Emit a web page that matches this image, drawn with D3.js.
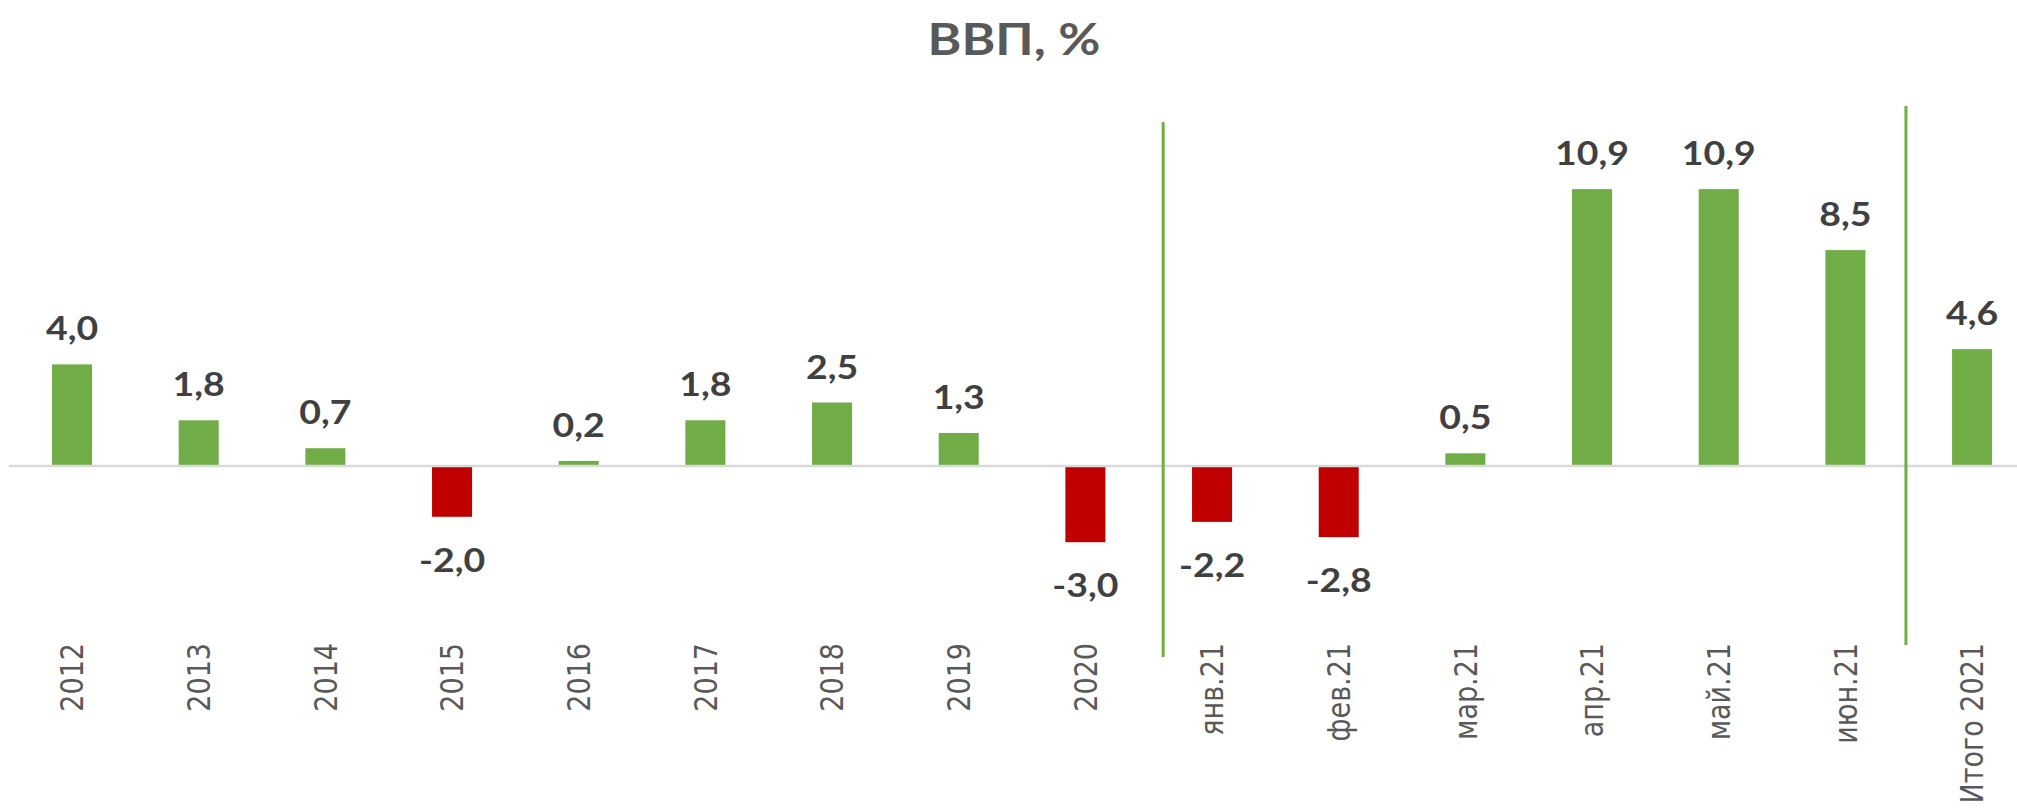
<!DOCTYPE html>
<html>
<head>
<meta charset="utf-8">
<script src="https://cdn.jsdelivr.net/npm/d3@7"></script>
<style>
	body { margin: 0; background: #ffffff; }
	svg { display: block; }
</style>
</head>
<body>
<div id="chart"></div>
<script>
var categories = ['2012', '2013', '2014', '2015', '2016', '2017', '2018', '2019', '2020',
	'янв.21', 'фев.21', 'мар.21', 'апр.21', 'май.21', 'июн.21', 'Итого 2021'];
var values = [4.0, 1.8, 0.7, -2.0, 0.2, 1.8, 2.5, 1.3, -3.0,
	-2.2, -2.8, 0.5, 10.9, 10.9, 8.5, 4.6];
// a green divider after these categories
var dividers = ['2020', 'июн.21'];
var title = 'ВВП, %';

var width = 2017,
	height = 812;

var GREEN = '#70ad47',
	RED = '#c00000',
	SX = 1.17; // source picture is a bit stretched sideways

var svg = d3.select('#chart')
	.append('svg')
	.attr('width', width)
	.attr('height', height);

var x = d3.scaleBand()
	.domain(categories)
	.range([8.7, 2035.4])
	.paddingInner(0.684)
	.paddingOuter(0.342);

var y = d3.scaleLinear()
	.domain([-4, 12])
	.range([567.6, 161.2]);

function fmt(v) {
	return v.toFixed(1).replace('.', ',');
}

function cx(d) {
	return x(d) + x.bandwidth() / 2;
}

// title
svg.append('text')
	.attr('transform', 'translate(1014,55) scale(' + SX + ',1)')
	.attr('text-anchor', 'middle')
	.style('font-family', 'Lato, "Open Sans", sans-serif')
	.style('font-weight', 'bold')
	.style('font-size', '44px')
	.style('fill', '#595959')
	.text(title);

// bars
svg.append('g')
	.selectAll('rect')
	.data(values)
	.enter()
	.append('rect')
	.attr('x', function(d, i) { return x(categories[i]); })
	.attr('width', x.bandwidth())
	.attr('y', function(d) { return d >= 0 ? y(d) : y(0); })
	.attr('height', function(d) { return Math.abs(y(d) - y(0)); })
	.style('fill', function(d) { return d >= 0 ? GREEN : RED; });

// zero line
svg.append('line')
	.attr('x1', 9)
	.attr('x2', width)
	.attr('y1', y(0))
	.attr('y2', y(0))
	.style('stroke', '#d9d9d9')
	.style('stroke-width', 2.5);

// value labels
svg.append('g')
	.selectAll('text')
	.data(values)
	.enter()
	.append('text')
	.attr('transform', function(d, i) {
		var ty = d >= 0 ? y(d) - 24 : y(d) + 55;
		return 'translate(' + cx(categories[i]) + ',' + ty + ') scale(' + SX + ',1)';
	})
	.attr('text-anchor', 'middle')
	.style('font-family', 'Lato, "Open Sans", sans-serif')
	.style('font-weight', 'bold')
	.style('font-size', '32px')
	.style('fill', '#404040')
	.text(fmt);

// category labels, rotated
svg.append('g')
	.selectAll('text')
	.data(categories)
	.enter()
	.append('text')
	.attr('transform', function(d) {
		return 'translate(' + cx(d) + ',643) scale(' + SX + ',1) rotate(-90)';
	})
	.attr('text-anchor', 'end')
	.attr('dy', '0.36em')
	.style('font-family', '"DejaVu Sans", sans-serif')
	.style('font-size', '27px')
	.style('fill', '#595959')
	.text(function(d) { return d; });

// dividers
var dividerStyle = [
	{ frac: 0.456, top: 122, bottom: 657 },
	{ frac: 0.32, top: 106, bottom: 645 }
];

svg.append('g')
	.selectAll('line')
	.data(dividers)
	.enter()
	.append('line')
	.attr('x1', function(d, i) { return x(d) + x.bandwidth() + x.step() * dividerStyle[i].frac; })
	.attr('x2', function(d, i) { return x(d) + x.bandwidth() + x.step() * dividerStyle[i].frac; })
	.attr('y1', function(d, i) { return dividerStyle[i].top; })
	.attr('y2', function(d, i) { return dividerStyle[i].bottom; })
	.style('stroke', GREEN)
	.style('stroke-width', 3);
</script>
</body>
</html>
